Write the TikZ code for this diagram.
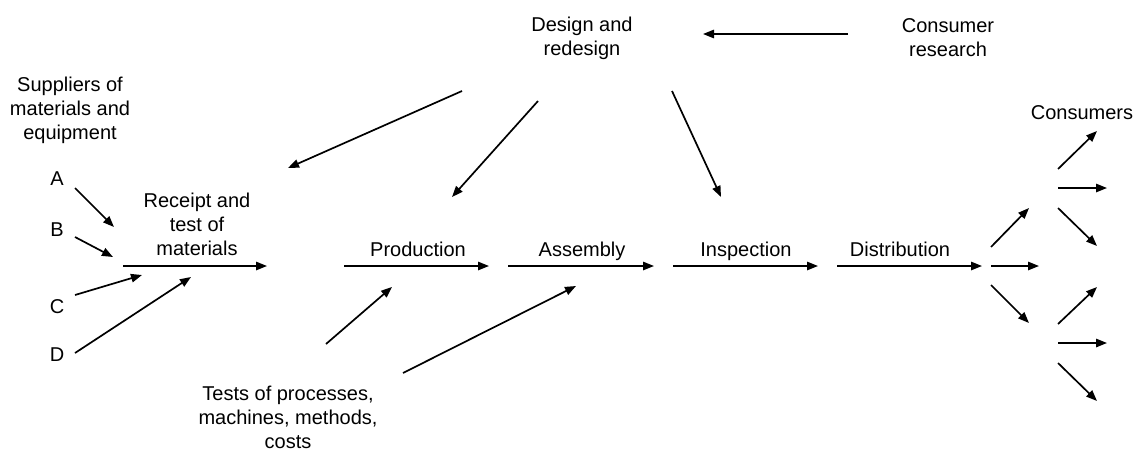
\documentclass[tikz,border=0pt]{standalone}
\usepackage{fontspec}
\setmainfont{Liberation Sans}
\usepackage{tikz}
\usetikzlibrary{arrows.meta}
\tikzset{lbl/.style={align=center, inner sep=0pt, font=\fontsize{10pt}{12pt}\selectfont},
flow/.style={draw, line width=0.85pt, -{Triangle[length=5.5pt, width=4.2pt]}}}
\begin{document}
\begin{tikzpicture}[x=0.5pt, y=-0.5pt]%
\useasboundingbox (0, 0) rectangle (1139, 451);%
\node[lbl] (design) at (582, 38) {Design and\\redesign};%
\node[lbl] (research) at (948, 38) {Consumer\\research};%
\node[lbl] (suppliers) at (70, 110) {Suppliers of\\materials and\\equipment};%
\node[lbl] (supA) at (57, 179) {A};%
\node[lbl] (supB) at (57, 230) {B};%
\node[lbl] (supC) at (57, 307) {C};%
\node[lbl] (supD) at (57, 355) {D};%
\node[lbl] (receipt) at (197, 224) {Receipt and\\test of\\materials};%
\node[lbl, anchor=base] (production) at (418, 256) {Production};%
\node[lbl, anchor=base] (assembly) at (582, 256) {Assembly};%
\node[lbl, anchor=base] (inspection) at (746, 256) {Inspection};%
\node[lbl, anchor=base] (distribution) at (900, 256) {Distribution};%
\node[lbl, anchor=base] (consumers) at (1082, 119) {Consumers};%
\node[lbl] (tests) at (288, 417) {Tests of processes,\\machines, methods,\\costs};%
% main line
\coordinate (recL) at (123, 266);%
\coordinate (recR) at (267, 266);%
\coordinate (prodL) at (344, 266);%
\coordinate (prodR) at (489, 266);%
\coordinate (asmL) at (508, 266);%
\coordinate (asmR) at (654, 266);%
\coordinate (inspL) at (673, 266);%
\coordinate (inspR) at (818, 266);%
\coordinate (distL) at (837, 266);%
\coordinate (distR) at (982, 266);%
\draw[flow] (recL) -- (recR);%
\draw[flow] (prodL) -- (prodR);%
\draw[flow] (asmL) -- (asmR);%
\draw[flow] (inspL) -- (inspR);%
\draw[flow] (distL) -- (distR);%
% design and research
\coordinate (resS) at (848, 34);%
\coordinate (resE) at (703, 34);%
\coordinate (dRecS) at (462, 91);%
\coordinate (dRecE) at (288, 168);%
\coordinate (dProdS) at (538, 101);%
\coordinate (dProdE) at (452, 197);%
\coordinate (dInspS) at (672, 91);%
\coordinate (dInspE) at (721, 197);%
\draw[flow] (resS) -- (resE);%
\draw[flow] (dRecS) -- (dRecE);%
\draw[flow] (dProdS) -- (dProdE);%
\draw[flow] (dInspS) -- (dInspE);%
% suppliers
\coordinate (aS) at (75, 188);%
\coordinate (aE) at (114, 227);%
\coordinate (bS) at (75, 237);%
\coordinate (bE) at (113, 257);%
\coordinate (cS) at (75, 295);%
\coordinate (cE) at (142, 275);%
\coordinate (dS) at (75, 353);%
\coordinate (dE) at (191, 277);%
\draw[flow] (aS) -- (aE);%
\draw[flow] (bS) -- (bE);%
\draw[flow] (cS) -- (cE);%
\draw[flow] (dS) -- (dE);%
% tests
\coordinate (tProdS) at (326, 344);%
\coordinate (tProdE) at (392, 287);%
\coordinate (tAsmS) at (403, 373);%
\coordinate (tAsmE) at (576, 286);%
\draw[flow] (tProdS) -- (tProdE);%
\draw[flow] (tAsmS) -- (tAsmE);%
% consumers
\coordinate (fanU0) at (991, 247);%
\coordinate (fanU1) at (1029, 208);%
\coordinate (fanM0) at (991, 266);%
\coordinate (fanM1) at (1039, 266);%
\coordinate (fanD0) at (991, 285);%
\coordinate (fanD1) at (1029, 323);%
\coordinate (cuU0) at (1058, 169);%
\coordinate (cuU1) at (1097, 131);%
\coordinate (cuM0) at (1058, 188);%
\coordinate (cuM1) at (1107, 188);%
\coordinate (cuD0) at (1058, 208);%
\coordinate (cuD1) at (1097, 246);%
\coordinate (clU0) at (1058, 324);%
\coordinate (clU1) at (1097, 287);%
\coordinate (clM0) at (1058, 343);%
\coordinate (clM1) at (1107, 343);%
\coordinate (clD0) at (1058, 363);%
\coordinate (clD1) at (1097, 401);%
\draw[flow] (fanU0) -- (fanU1);%
\draw[flow] (fanM0) -- (fanM1);%
\draw[flow] (fanD0) -- (fanD1);%
\draw[flow] (cuU0) -- (cuU1);%
\draw[flow] (cuM0) -- (cuM1);%
\draw[flow] (cuD0) -- (cuD1);%
\draw[flow] (clU0) -- (clU1);%
\draw[flow] (clM0) -- (clM1);%
\draw[flow] (clD0) -- (clD1);%
\end{tikzpicture}
\end{document}
